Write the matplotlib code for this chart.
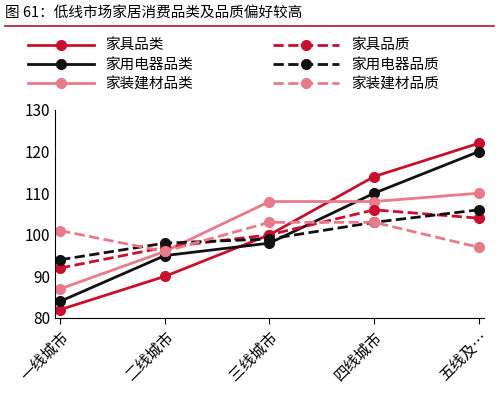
import matplotlib
matplotlib.use("Agg")
import matplotlib.pyplot as plt

plt.rcParams['font.family'] = ['Noto Sans CJK SC', 'DejaVu Sans']

categories = ['一线城市', '二线城市', '三线城市', '四线城市', '五线及…']
furn_cat = [82, 90, 100, 114, 122]
appl_cat = [84, 95, 98, 110, 120]
build_cat = [87, 96, 108, 108, 110]
furn_q = [92, 97, 100, 106, 104]
appl_q = [94, 98, 99, 103, 106]
build_q = [101, 96, 103, 103, 97]

fig = plt.figure(figsize=(4.99, 4.0), dpi=100)
ax = fig.add_axes([0.11, 0.205, 0.86, 0.52])
fig.text(0.01, 0.985, '图 61：低线市场家居消费品类及品质偏好较高', fontsize=10.5, va='top')
fig.add_artist(plt.Line2D([0.01, 0.99], [0.935, 0.935], color='#b0182a', lw=1.2))

x = range(len(categories))
red, pink, blk = '#c8102e', '#e87a8a', '#111111'
kw = dict(marker='o', ms=7, lw=2)
l1, = ax.plot(x, furn_cat, color=red, ls='-', **kw, label='家具品类')
l2, = ax.plot(x, appl_cat, color=blk, ls='-', **kw, label='家用电器品类')
l3, = ax.plot(x, build_cat, color=pink, ls='-', **kw, label='家装建材品类')
l4, = ax.plot(x, furn_q, color=red, ls='--', **kw, label='家具品质')
l5, = ax.plot(x, appl_q, color=blk, ls='--', **kw, label='家用电器品质')
l6, = ax.plot(x, build_q, color=pink, ls='--', **kw, label='家装建材品质')

ax.set_ylim(80, 130)
ax.set_yticks(range(80, 131, 10))
ax.set_xlim(-0.05, 4.05)
ax.set_xticks(list(x))
ax.set_xticklabels(categories, rotation=45, ha='right', rotation_mode='anchor', fontsize=11)
ax.tick_params(axis='y', labelsize=11, length=0)
ax.tick_params(axis='x', length=4)
for s in ['top', 'right']:
    ax.spines[s].set_visible(False)

fig.legend(handles=[l1, l2, l3, l4, l5, l6], ncol=2, loc='upper left',
           bbox_to_anchor=(0.03, 0.935), frameon=False, fontsize=10.5,
           handlelength=4.5, columnspacing=5.5, labelspacing=0.35)
fig.savefig('out.png', dpi=100)
